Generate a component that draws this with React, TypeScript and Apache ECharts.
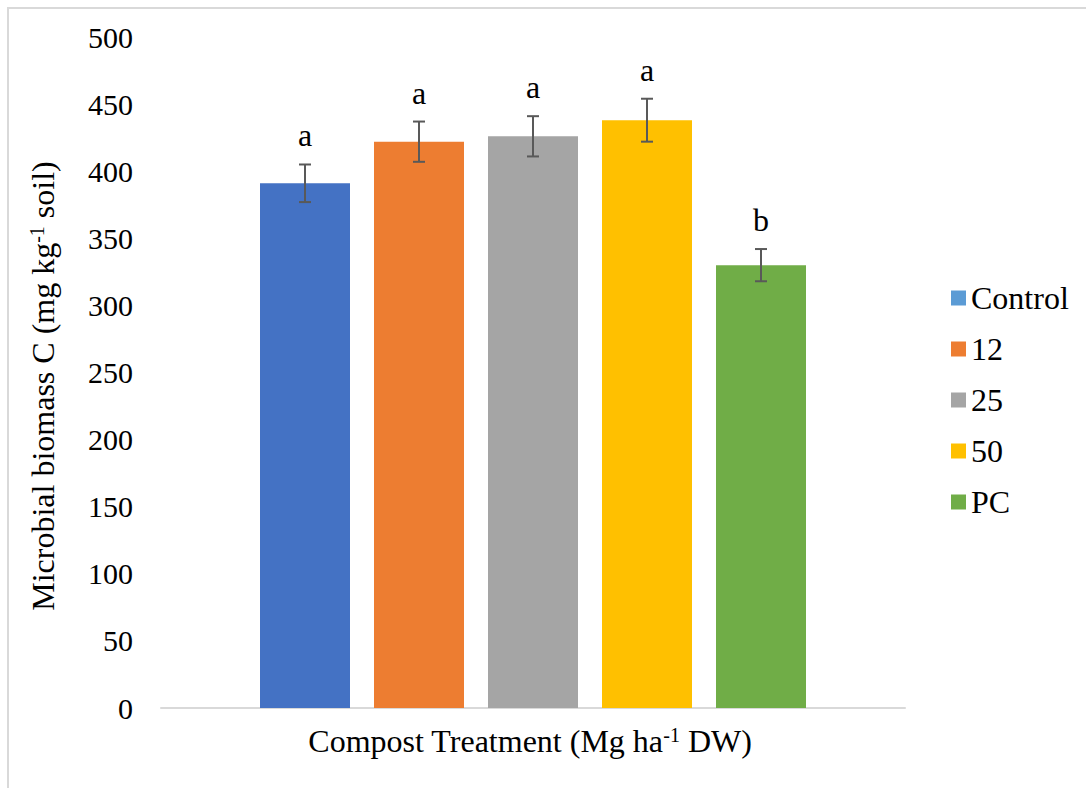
import React, { useEffect, useRef } from "react";
import * as echarts from "echarts";

const categories = ["Control", "12", "25", "50", "PC"];
const meanValues = [391, 422, 426, 438, 330];
const errorValues = [14, 15, 15, 16, 12];
const letters = ["a", "a", "a", "a", "b"];
const barColors = ["#4472C4", "#ED7D31", "#A5A5A5", "#FFC000", "#70AD47"];
const legendColors = ["#5B9BD5", "#ED7D31", "#A5A5A5", "#FFC000", "#70AD47"];
const yMin = 0;
const yMax = 500;
const yInterval = 50;

const FONT = "Liberation Serif";
const BAR_WIDTH = 90;
const BAR_GAP = 24;

export default function App() {
  const ref = useRef<HTMLDivElement>(null);

  useEffect(() => {
    if (!ref.current) return;
    const chart = echarts.init(ref.current, null, { renderer: "svg" });

    const n = categories.length;
    const step = BAR_WIDTH + BAR_GAP;

    const barSeries = categories.map((name, i) => ({
      name,
      type: "bar",
      data: [meanValues[i]],
      barWidth: BAR_WIDTH,
      barGap: (BAR_GAP / BAR_WIDTH) * 100 + "%",
      itemStyle: { color: barColors[i] },
      z: 2,
    }));

    const errorSeries = {
      name: "errors",
      type: "custom",
      z: 5,
      encode: { x: 0, y: 1 },
      data: categories.map((_, i) => [0, meanValues[i], errorValues[i], i]),
      renderItem: (params: any, api: any) => {
        const v = api.value(1);
        const e = api.value(2);
        const idx = api.value(3);
        const top = api.coord([0, v + e]);
        const bot = api.coord([0, v - e]);
        const x = top[0] + (idx - (n - 1) / 2) * step;
        const cap = 6;
        const ls = { stroke: "#595959", lineWidth: 2 };
        return {
          type: "group",
          children: [
            { type: "line", shape: { x1: x, y1: top[1], x2: x, y2: bot[1] }, style: ls },
            { type: "line", shape: { x1: x - cap, y1: top[1], x2: x + cap, y2: top[1] }, style: ls },
            { type: "line", shape: { x1: x - cap, y1: bot[1], x2: x + cap, y2: bot[1] }, style: ls },
            {
              type: "text",
              style: {
                text: letters[idx],
                x,
                y: top[1] - 13,
                align: "center",
                verticalAlign: "bottom",
                fontSize: 32,
                fontFamily: FONT,
                fill: "#000000",
              },
            },
          ],
        };
      },
    };

    const rich = {
      n: { fontSize: 32, fontFamily: FONT, color: "#000", lineHeight: 38 },
      s: {
        fontSize: 20,
        fontFamily: FONT,
        color: "#000",
        lineHeight: 20,
        verticalAlign: "top",
        padding: [3, 0, 0, 0],
      },
    };

    chart.setOption({
      animation: false,
      backgroundColor: "#ffffff",
      textStyle: { fontFamily: FONT },
      grid: { left: 161, right: 181, top: 37, bottom: 80, containLabel: false },
      xAxis: {
        type: "category",
        data: [""],
        axisLine: { show: true, lineStyle: { color: "#D9D9D9", width: 2 } },
        axisTick: { show: false },
        axisLabel: { show: false },
        splitLine: { show: false },
      },
      yAxis: {
        type: "value",
        min: yMin,
        max: yMax,
        interval: yInterval,
        axisLine: { show: false },
        axisTick: { show: false },
        splitLine: { show: false },
        axisLabel: {
          fontSize: 30,
          fontFamily: FONT,
          color: "#000000",
          margin: 28,
        },
      },
      legend: {
        orient: "vertical",
        left: 946,
        top: 276,
        icon: "rect",
        itemWidth: 15,
        itemHeight: 15,
        itemGap: 17,
        textStyle: { fontSize: 32, fontFamily: FONT, color: "#000", lineHeight: 34 },
        data: categories.map((name, i) => ({ name, itemStyle: { color: legendColors[i] } })),
      },
      graphic: [
        {
          type: "rect",
          shape: { x: 8, y: 8, width: 1100, height: 800 },
          style: { fill: "none", stroke: "#D9D9D9", lineWidth: 2 },
          silent: true,
          z: -10,
        },
        {
          type: "text",
          x: 530,
          y: 741,
          style: {
            text: "{n|Compost Treatment (Mg ha}{s|-1}{n| DW)}",
            rich,
            align: "center",
            verticalAlign: "middle",
          },
        },
        {
          type: "text",
          x: 43,
          y: 386,
          rotation: Math.PI / 2,
          style: {
            text: "{n|Microbial biomass C (mg kg}{s|-1}{n| soil)}",
            rich,
            align: "center",
            verticalAlign: "middle",
          },
        },
      ],
      series: [...barSeries, errorSeries],
    });

    return () => chart.dispose();
  }, []);

  return (
    <div
      ref={ref}
      style={{ position: "absolute", left: 0, top: 0, width: 1086, height: 788 }}
    />
  );
}
